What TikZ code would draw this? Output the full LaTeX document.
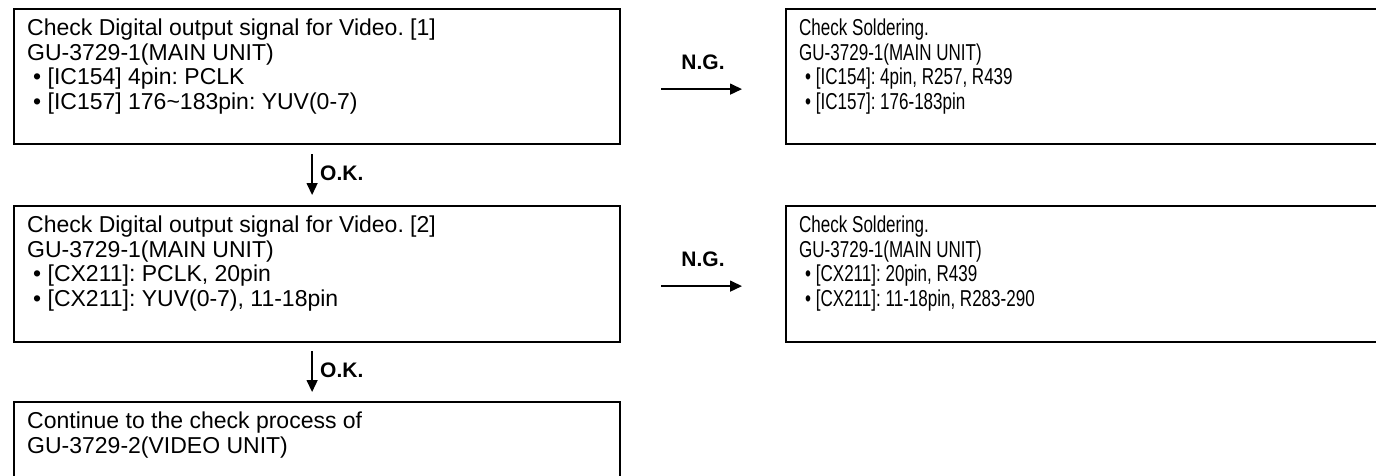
\documentclass[tikz,border=0pt]{standalone}
\usepackage{fontspec}
\setmainfont{Liberation Sans}
\newfontfamily\narrowfont[FakeStretch=0.74]{Liberation Sans}
\usetikzlibrary{arrows.meta}
\begin{document}
\frenchspacing
\begin{tikzpicture}[x=1pt,y=-1pt,
  box/.style={draw,line width=2.2pt,anchor=north west,inner sep=0pt,minimum width=606pt},
  rbox/.style={draw,line width=2.2pt,anchor=north west,inner sep=0pt,minimum width=610pt},
  txt/.style={anchor=north west,inner sep=0pt,align=left,font=\fontsize{23}{24.5}\selectfont},
  rtxt/.style={anchor=north west,inner sep=0pt,align=left,font=\narrowfont\fontsize{23}{24.5}\selectfont},
  arr/.style={line width=1.5pt,-{Triangle[length=12pt,width=11pt]}},
  lbl/.style={font=\bfseries\fontsize{21}{22}\selectfont,inner sep=0pt}]
\useasboundingbox (0,0) rectangle (1376,475);
\node[box,minimum height=135pt] (b1) at (13,8) {};
\node[rbox,minimum height=135pt] (r1) at (785,8) {};
\node[box,minimum height=136pt] (b2) at (13,205) {};
\node[rbox,minimum height=136pt] (r2) at (785,205) {};
\node[box,minimum height=90pt] (b3) at (13,401) {};
\node[txt] (b1t) at ([xshift=14pt,yshift=-11pt]b1.north west) {Check Digital output signal for Video. [1]\\GU-3729-1(MAIN UNIT)\\\hspace{6pt}• [IC154] 4pin: PCLK\\\hspace{6pt}• [IC157] 176\char`~183pin: YUV(0-7)};
\node[rtxt] (r1t) at ([xshift=14pt,yshift=-11pt]r1.north west) {Check Soldering.\\GU-3729-1(MAIN UNIT)\\\hspace{6pt}• [IC154]: 4pin, R257, R439\\\hspace{6pt}• [IC157]: 176-183pin};
\node[txt] (b2t) at ([xshift=14pt,yshift=-11pt]b2.north west) {Check Digital output signal for Video. [2]\\GU-3729-1(MAIN UNIT)\\\hspace{6pt}• [CX211]: PCLK, 20pin\\\hspace{6pt}• [CX211]: YUV(0-7), 11-18pin};
\node[rtxt] (r2t) at ([xshift=14pt,yshift=-11pt]r2.north west) {Check Soldering.\\GU-3729-1(MAIN UNIT)\\\hspace{6pt}• [CX211]: 20pin, R439\\\hspace{6pt}• [CX211]: 11-18pin, R283-290};
\node[txt] (b3t) at ([xshift=14pt,yshift=-11pt]b3.north west) {Continue to the check process of\\GU-3729-2(VIDEO UNIT)};
% connectors
\draw[arr,shorten <=40pt,shorten >=43pt] ([yshift=-12.5pt]b1.east) -- ([yshift=-12.5pt]r1.west);
\node[lbl] (ng1) at (703,62) {N.G.};
\draw[arr,shorten <=40pt,shorten >=43pt] ([yshift=-12pt]b2.east) -- ([yshift=-12pt]r2.west);
\node[lbl] (ng2) at (703,259) {N.G.};
\draw[arr,shorten <=9pt,shorten >=10pt] ([xshift=-5pt]b1.south) -- ([xshift=-5pt]b2.north);
\node[lbl,anchor=west] (ok1) at (320,173) {O.K.};
\draw[arr,shorten <=8pt,shorten >=9pt] ([xshift=-5pt]b2.south) -- ([xshift=-5pt]b3.north);
\node[lbl,anchor=west] (ok2) at (320,370) {O.K.};
\end{tikzpicture}
\end{document}
